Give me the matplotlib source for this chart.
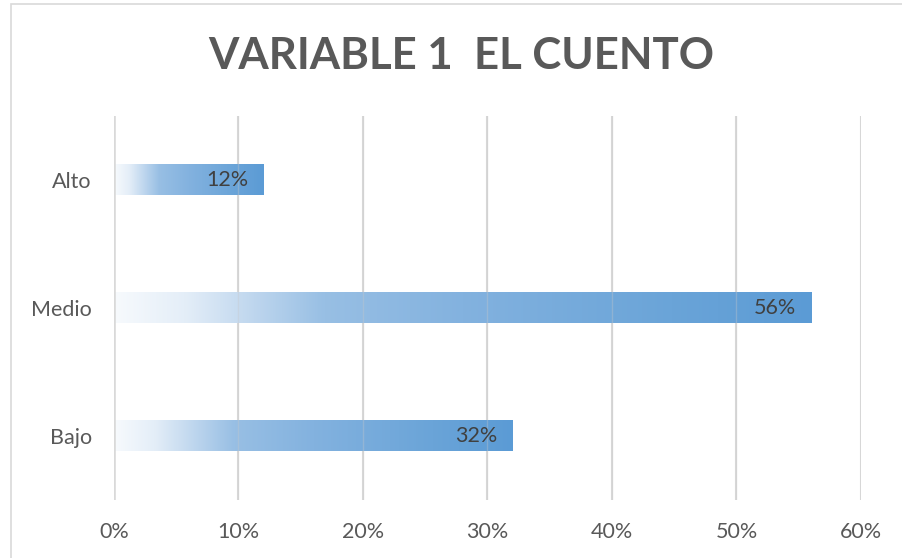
import matplotlib
matplotlib.use("Agg")
import matplotlib.pyplot as plt
import numpy as np
from matplotlib.colors import LinearSegmentedColormap
from matplotlib.patches import Rectangle
from matplotlib.ticker import FuncFormatter

categories = ["Bajo", "Medio", "Alto"]
values = [0.32, 0.56, 0.12]
labels = ["32%", "56%", "12%"]
xticks = [0, 0.1, 0.2, 0.3, 0.4, 0.5, 0.6]
title = "VARIABLE 1  EL CUENTO"

plt.rcParams['font.family'] = ['Lato', 'DejaVu Sans']

W, H = 903, 558
fig = plt.figure(figsize=(W / 100, H / 100), dpi=100)
fig.patch.set_facecolor("white")

# chart border (only left/top visible)
fig.add_artist(Rectangle((11 / W, -0.1), 1.2, (H - 4) / H + 0.1, transform=fig.transFigure,
                         fill=False, edgecolor="#D9D9D9", linewidth=1.2))

ax = fig.add_axes([114 / W, 58 / H, (861 - 114) / W, (500 - 116) / H])
ax.set_facecolor("none")

cmap = LinearSegmentedColormap.from_list("grad", [
    (0.0, "#F7FAFD"), (0.10, "#E4EEF8"), (0.2, "#BED6EE"), (0.3, "#98BFE4"),
    (0.5, "#83B2DF"), (0.8, "#6AA4D8"), (1.0, "#5B9BD5")])
grad = np.linspace(0, 1, 256).reshape(1, -1)

bh = 0.24
for i, (c, v, lab) in enumerate(zip(categories, values, labels)):
    ax.imshow(grad, cmap=cmap, extent=[0, v, i - bh / 2, i + bh / 2], aspect="auto",
              interpolation="bicubic", zorder=2)
    ax.annotate(lab, xy=(v, i), xytext=(-11, 0), textcoords="offset points",
                ha="right", va="center", fontsize=15.5, color="#404040", zorder=4)

ax.set_xlim(0, 0.6)
ax.set_ylim(-0.5, 2.5)
ax.set_xticks(xticks)
ax.xaxis.set_major_formatter(FuncFormatter(lambda x, p: f"{x*100:.0f}%"))
ax.set_yticks(range(len(categories)))
ax.set_yticklabels(categories)
for sp in ax.spines.values():
    sp.set_visible(False)
ax.tick_params(axis="both", length=0, labelsize=15.5, labelcolor="#595959")
ax.tick_params(axis="x", pad=16)
ax.tick_params(axis="y", pad=16)
for t in xticks[1:]:
    ax.axvline(t, color="#D9D9D9", linewidth=1.5, zorder=1)
    ax.axvline(t, color="#C8C8C8", linewidth=1.0, alpha=0.35, zorder=3)
ax.axvline(0, color="#D9D9D9", linewidth=2.6, zorder=3)

fig.text(461 / W, 1 - 56 / H, title, ha="center", va="center", fontsize=31.5,
         fontweight="bold", color="#595959")

fig.savefig("out.png", dpi=100)
